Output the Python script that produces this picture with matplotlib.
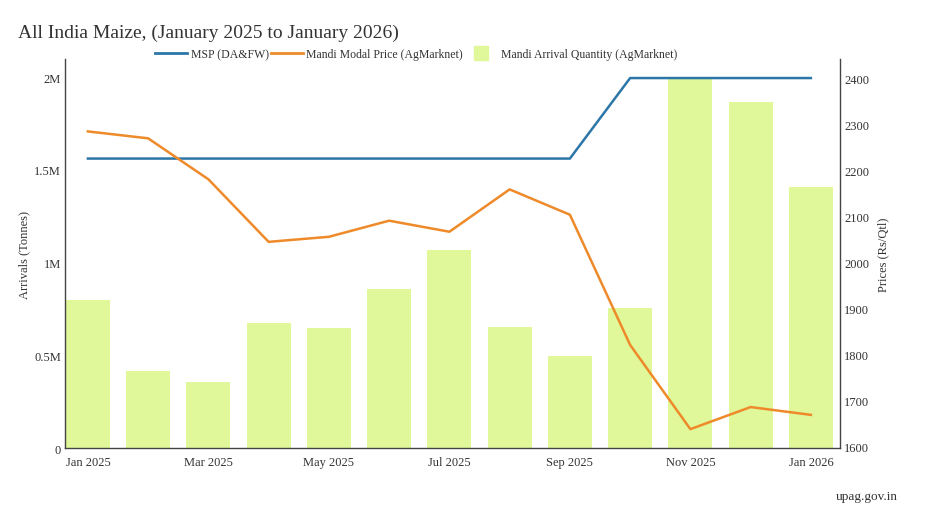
import matplotlib
matplotlib.use('Agg')
import matplotlib.pyplot as plt
from matplotlib.lines import Line2D
from matplotlib.ticker import FuncFormatter

plt.rcParams['font.family'] = ['Liberation Serif', 'DejaVu Serif']

# 데이터
months = ['Jan 2025', 'Feb 2025', 'Mar 2025', 'Apr 2025', 'May 2025', 'Jun 2025', 'Jul 2025',
          'Aug 2025', 'Sep 2025', 'Oct 2025', 'Nov 2025', 'Dec 2025', 'Jan 2026']
arrivals = [800000, 415000, 356000, 674000, 647000, 857000, 1067000,
            652000, 496000, 755000, 2000000, 1865000, 1407000]
msp = [2225, 2225, 2225, 2225, 2225, 2225, 2225, 2225, 2225, 2400, 2400, 2400, 2400]
modal_price = [2284, 2269, 2180, 2044, 2055, 2090, 2066, 2158, 2103, 1820, 1637, 1685, 1668]

bar_color = '#e0f79a'
msp_color = '#2d76a8'
modal_color = '#ee8a2a'
text_color = '#333333'

fig = plt.figure(figsize=(9.5, 5.1), dpi=100)
ax = fig.add_axes([0.0684, 0.1196, 0.8156, 0.7624])
ax2 = ax.twinx()

x = list(range(len(months)))
ax.bar(x, arrivals, width=0.73, color=bar_color, zorder=1)
ax2.plot(x, msp, color=msp_color, linewidth=1.8, zorder=3)
ax2.plot(x, modal_price, color=modal_color, linewidth=1.8, zorder=3)

# 축 범위
ax.set_xlim(-0.38, 12.48)
ax.set_ylim(0, 2.097e6)
ax2.set_ylim(1596, 2441)

ax.set_xticks(x[::2])
ax.set_xticklabels(months[::2])
ax.set_yticks([0, 0.5e6, 1e6, 1.5e6, 2e6])
ax.yaxis.set_major_formatter(FuncFormatter(lambda v, p: '0' if v == 0 else f'{v / 1e6:g}M'))
ax2.set_yticks(range(1600, 2401, 100))

for a in (ax, ax2):
    a.spines['top'].set_visible(False)
    a.tick_params(length=0, labelsize=9, colors=text_color, pad=3)
    for s in ('left', 'right', 'bottom'):
        a.spines[s].set_color('#444444')
        a.spines[s].set_linewidth(1)
ax.tick_params(axis='x', pad=6)
ax.spines['right'].set_visible(False)
ax2.spines['left'].set_visible(False)
ax2.spines['bottom'].set_visible(False)

ax.set_ylabel('Arrivals (Tonnes)', fontsize=9, color=text_color, labelpad=3)
ax2.set_ylabel('Prices (Rs/Qtl)', fontsize=9, color=text_color, labelpad=6)

fig.text(0.019, 0.935, 'All India Maize, (January 2025 to January 2026)', fontsize=14, color=text_color,
         va='center')
fig.text(0.945, 0.025, 'upag.gov.in', fontsize=9.5, color=text_color, ha='right', va='center')

handles = [Line2D([], [], color=msp_color, linewidth=2),
           Line2D([], [], color=modal_color, linewidth=2),
           Line2D([], [], color=bar_color, marker='s', markersize=10, linestyle='none')]
labels = ['MSP (DA&FW)', 'Mandi Modal Price (AgMarknet)', 'Mandi Arrival Quantity (AgMarknet)']
fig.legend(handles, labels, loc='center', bbox_to_anchor=(0.438, 0.892), ncol=3, frameon=False,
           fontsize=8.5, handlelength=2.7, handletextpad=0.3, columnspacing=0.2, labelcolor=text_color)

fig.savefig('out.png', dpi=100)
